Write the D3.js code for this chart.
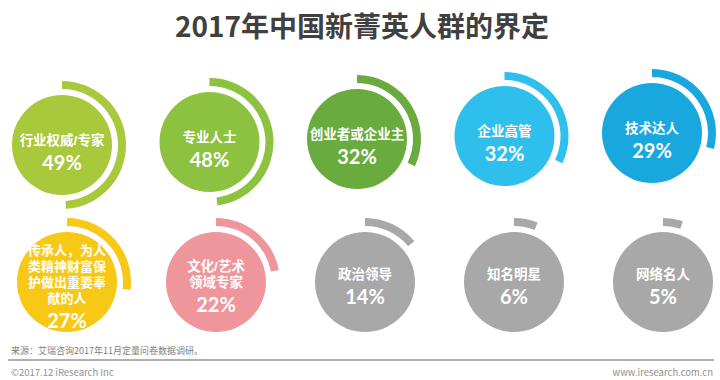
<!DOCTYPE html>
<html>
<head>
<meta charset="utf-8">
<script src="https://cdn.jsdelivr.net/npm/d3@7/dist/d3.min.js"></script>
<style>
  html, body { margin: 0; padding: 0; background: #ffffff; }
  svg { display: block; font-family: "Noto Sans CJK SC", "Noto Sans", sans-serif; }
  .lbl { font-family: "Liberation Sans", "Noto Sans CJK SC", sans-serif; }
  .val { font-family: Lato, "Noto Sans CJK SC", sans-serif; }
</style>
</head>
<body>
<svg id="chart" width="720" height="380"></svg>
<script>
// ---- data ----
const title = "2017年中国新菁英人群的界定";
const categories = [
  ["行业权威/专家"],
  ["专业人士"],
  ["创业者或企业主"],
  ["企业高管"],
  ["技术达人"],
  ["传承人，为人", "类精神财富保", "护做出重要奉", "献的人"],
  ["文化/艺术", "领域专家"],
  ["政治领导"],
  ["知名明星"],
  ["网络名人"]
];
const values = [49, 48, 32, 32, 29, 27, 22, 14, 6, 5];
const palette = ["#a9c83b", "#8dc140", "#6aab40", "#2fbfed", "#19a8de",
                 "#f8c816", "#ef959c", "#a8a8a8", "#a8a8a8", "#a8a8a8"];
const sourceText = "来源：艾瑞咨询2017年11月定量问卷数据调研。";
const copyrightText = "©2017.12 iResearch Inc";
const siteText = "www.iresearch.com.cn";

// ---- layout ----
const svg = d3.select("#chart");

svg.append("text")
  .attr("x", 362).attr("y", 25)
  .attr("text-anchor", "middle")
  .attr("dominant-baseline", "central")
  .attr("font-size", 28).attr("font-weight", "bold")
  .attr("fill", "#404040")
  .text(title);

const colIdx = [0, 1, 2, 3, 4];
const xRow = [
  d3.scaleLinear().domain([0, 4]).range([62, 652]),
  d3.scaleLinear().domain([0, 4]).range([67, 663])
];
const yRow = [
  d3.scaleLinear().domain([0, 4]).range([145, 133]),
  d3.scaleLinear().domain([0, 4]).range([282, 282])
];
const textOffset = [6, 3];

const angle = d3.scaleLinear().domain([0, 100]).range([0, 2 * Math.PI]);
const rCircle = 50, rIn = 56, rOut = 64;
const ring = d3.arc().innerRadius(rIn).outerRadius(rOut);

const items = values.map((v, i) => ({
  v, lines: categories[i], color: palette[i],
  row: Math.floor(i / 5), col: colIdx[i % 5]
}));

const g = svg.selectAll("g.item").data(items).join("g")
  .attr("class", "item")
  .attr("transform", d => `translate(${xRow[d.row](d.col)},${yRow[d.row](d.col)})`);

g.append("path")
  .attr("d", d => ring({ startAngle: 0, endAngle: angle(d.v) }))
  .attr("fill", d => d.color);

g.append("circle")
  .attr("r", rCircle)
  .attr("fill", d => d.color);

const lineH = 16, valGap = 21;
g.each(function (d) {
  const sel = d3.select(this);
  const n = d.lines.length;
  const span = (n - 1) * lineH + valGap;
  const top = textOffset[d.row] - span / 2;
  d.lines.forEach((t, k) => {
    sel.append("text")
      .attr("class", "lbl")
      .attr("x", 0).attr("y", top + k * lineH)
      .attr("text-anchor", "middle")
      .attr("dominant-baseline", "central")
      .attr("font-size", n > 2 ? 13 : 13.5)
      .attr("font-weight", "bold")
      .attr("fill", "#ffffff")
      .text(t);
  });
  sel.append("text")
    .attr("class", "val")
    .attr("x", 0).attr("y", top + span)
    .attr("text-anchor", "middle")
    .attr("dominant-baseline", "central")
    .attr("font-size", 20)
    .attr("font-weight", "bold")
    .attr("fill", "#ffffff")
    .text(d.v + "%");
});

// ---- footer ----
svg.append("text")
  .attr("x", 11).attr("y", 350)
  .attr("dominant-baseline", "central")
  .attr("font-size", 9).attr("fill", "#808080")
  .text(sourceText);

svg.append("line")
  .attr("x1", 8).attr("x2", 714)
  .attr("y1", 360).attr("y2", 360)
  .attr("stroke", "#b0b0b0").attr("stroke-width", 2);

svg.append("text")
  .attr("x", 11).attr("y", 372)
  .attr("dominant-baseline", "central")
  .attr("font-size", 9.5).attr("fill", "#909090")
  .text(copyrightText);

svg.append("text")
  .attr("x", 713).attr("y", 372)
  .attr("text-anchor", "end")
  .attr("dominant-baseline", "central")
  .attr("font-size", 9.5).attr("fill", "#909090")
  .text(siteText);
</script>
</body>
</html>
